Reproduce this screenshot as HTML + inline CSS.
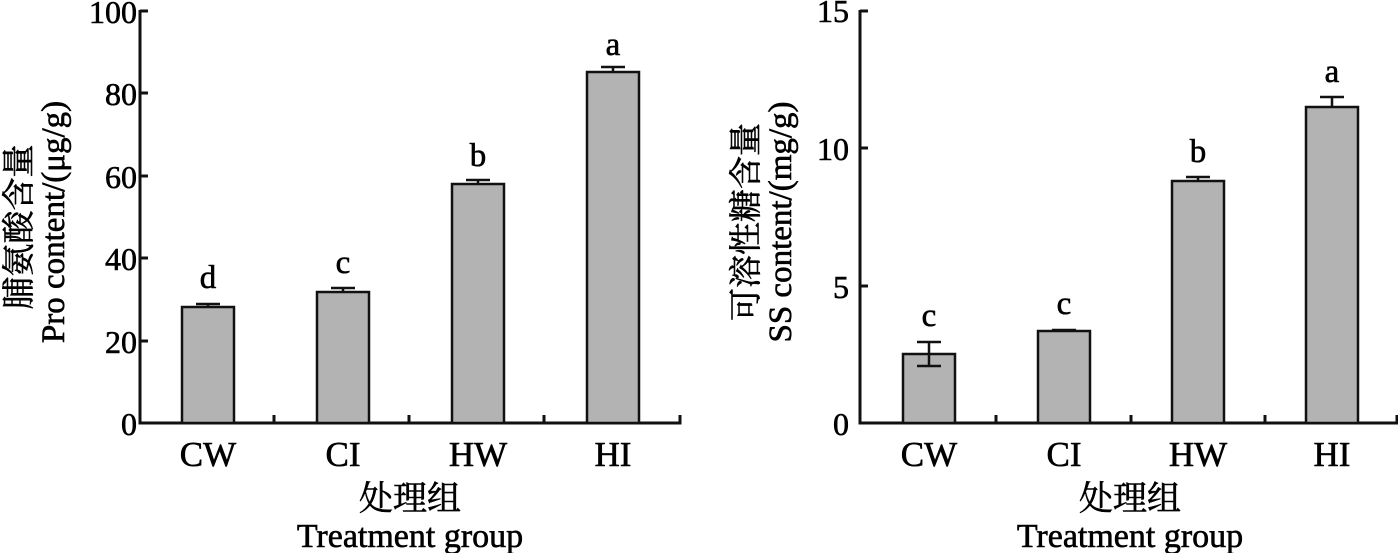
<!DOCTYPE html><html><head><style>body{margin:0;background:#fff}</style></head><body>
<svg width="1398" height="553" xmlns="http://www.w3.org/2000/svg" font-family="Liberation Serif, Noto Serif CJK SC, serif" font-size="33" fill="#000">
<g stroke="#111" stroke-width="3" fill="none">
<path d="M140,10 V423 H680 V415 M140,11 H148 M140,93 H148 M140,176 H148 M140,258 H148 M140,341 H148 M274,423 V415 M409,423 V415 M544,423 V415"/>
<path d="M860,10 V423 H1397 V415 M860,11 H868 M860,148 H868 M860,286 H868 M996,423 V415 M1131,423 V415 M1265,423 V415"/>
</g>
<g fill="#b3b3b3" stroke="#111" stroke-width="2.5">
<rect x="182" y="307" width="52" height="116"/><rect x="317" y="292" width="52" height="131"/>
<rect x="452" y="184" width="52" height="239"/><rect x="587" y="72" width="52" height="351"/>
<rect x="903" y="354" width="52" height="69"/><rect x="1038" y="331" width="52" height="92"/>
<rect x="1172" y="181" width="52" height="242"/><rect x="1306" y="107" width="52" height="316"/>
</g>
<g stroke="#111" stroke-width="2.5">
<path d="M208,307 V304 M196,304 H220 M343,292 V288 M331,288 H355 M478,184 V180 M466,180 H490 M613,72 V67 M601,67 H625"/>
<path d="M929,354 V342 M917,342 H941 M917,366 H941 M929,366 V354 M1064,331 V330 M1052,330 H1076 M1198,181 V177 M1186,177 H1210 M1332,107 V97 M1320,97 H1344"/>
</g>
<g stroke="#000" stroke-width="0.6">
<g text-anchor="middle">
<text x="208" y="288">d</text><text x="343" y="273">c</text><text x="478" y="166">b</text><text x="613" y="55">a</text>
<text x="929" y="326">c</text><text x="1064" y="314">c</text><text x="1198" y="162">b</text><text x="1332" y="82">a</text>
<g font-size="35">
<text x="208" y="466">CW</text><text x="343" y="466">CI</text><text x="478" y="466">HW</text><text x="613" y="466">HI</text>
<text x="929" y="466">CW</text><text x="1064" y="466">CI</text><text x="1198" y="466">HW</text><text x="1332" y="466">HI</text>
<text x="410" y="510" font-size="34">处理组</text><text x="410" y="547" font-size="34">Treatment group</text>
<text x="1130" y="510" font-size="34">处理组</text><text x="1130" y="547" font-size="34">Treatment group</text>
</g>
</g>
<g text-anchor="end" font-size="32">
<text x="137" y="23">100</text><text x="137" y="105">80</text><text x="137" y="188">60</text><text x="137" y="270">40</text><text x="137" y="353">20</text><text x="137" y="435">0</text>
<text x="849" y="22">15</text><text x="849" y="160">10</text><text x="849" y="298">5</text><text x="849" y="435">0</text>
</g>
<g text-anchor="middle" font-size="33">
<text transform="translate(30,227) rotate(-90)">脯氨酸含量</text>
<text transform="translate(64,222) rotate(-90)">Pro content/(μg/g)</text>
<text transform="translate(757,222) rotate(-90)">可溶性糖含量</text>
<text transform="translate(791,222) rotate(-90)">SS content/(mg/g)</text>
</g>
</g>
</svg></body></html>
